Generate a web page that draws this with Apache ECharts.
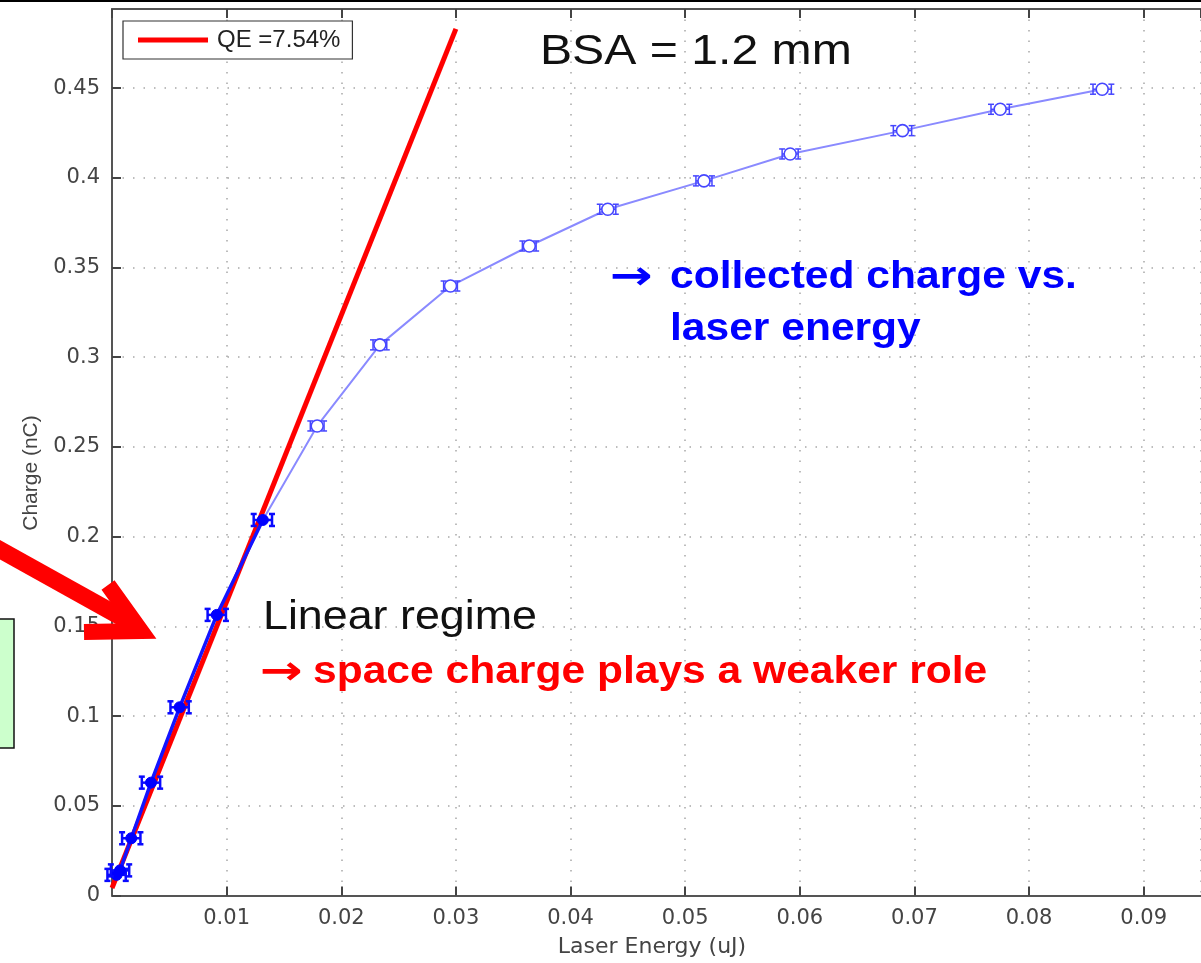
<!DOCTYPE html>
<html>
<head>
<meta charset="utf-8">
<title>Charge vs. laser energy</title>
<script src="https://cdn.jsdelivr.net/npm/echarts@6/dist/echarts.min.js"></script>
<style>
  html, body { margin: 0; padding: 0; background: #ffffff; }
  #chart { width: 1201px; height: 963px; }
</style>
</head>
<body>
<div id="chart"></div>
<script>
// Measured laser energy (uJ) and collected charge (nC)
const energy = [0.0004, 0.0007, 0.00168, 0.0034, 0.0059, 0.00914, 0.01316,
                0.0179, 0.02337, 0.02953, 0.0364, 0.04325, 0.05164, 0.05916,
                0.06896, 0.07748, 0.08638];
const charge = [0.0115, 0.0140, 0.0319, 0.0629, 0.1049, 0.1564, 0.2093,
                0.2617, 0.3069, 0.3397, 0.3620, 0.3825, 0.3983, 0.4133,
                0.4263, 0.4382, 0.4494];
// Horizontal uncertainty on the laser energy (uJ)
const energyErr = [0.0008, 0.0008, 0.0008, 0.0008, 0.0008, 0.0008, 0.0008,
                   0.0006, 0.0006, 0.0006, 0.0006, 0.0007, 0.0007, 0.0007,
                   0.0008, 0.0008, 0.0008];
// Number of points in the linear (low-charge) regime
const linearCount = 7;

// Linear fit, QE = 7.54 %
const qeName = 'QE =7.54%';
const qeLine = [[0, 0.0042], [0.0300, 0.4830]];

// Axis ranges and tick spacing
const xRange = [0, 0.095];
const xStep = 0.01;
const yRange = [0, 0.4941];
const yStep = 0.05;

const pts = energy.map((e, i) => [e, charge[i]]);
const linearPts = pts.slice(0, linearCount);
const saturPts = pts.slice(linearCount - 1);
const errData = energy.map((e, i) => [e, charge[i], energyErr[i], i < linearCount ? 1 : 0]);

const chart = echarts.init(document.getElementById('chart'), null, { renderer: 'canvas' });

const tickFont = { fontFamily: 'DejaVu Sans', fontSize: 21, color: '#444' };
const gridDots = { color: '#a8a8a8', width: 1.5, type: [1.5, 9] };

function renderErr(params, api) {
  const x = api.value(0), y = api.value(1), e = api.value(2), filled = api.value(3) === 1;
  const p = api.coord([x, y]);
  const l = api.coord([x - e, y]);
  const r = api.coord([x + e, y]);
  const col = filled ? '#0a0aff' : '#4646ff';
  const lw = filled ? 2.5 : 1.5;
  const h = filled ? 6 : 5;
  const s = 3;
  const st = { stroke: col, lineWidth: lw, fill: null };
  const kids = [
    { type: 'line', shape: { x1: l[0], y1: p[1], x2: r[0], y2: p[1] }, style: st },
    { type: 'line', shape: { x1: l[0], y1: p[1] - h, x2: l[0], y2: p[1] + h }, style: st },
    { type: 'line', shape: { x1: r[0], y1: p[1] - h, x2: r[0], y2: p[1] + h }, style: st },
    { type: 'line', shape: { x1: l[0] - s, y1: p[1] - h, x2: l[0] + s, y2: p[1] - h }, style: st },
    { type: 'line', shape: { x1: l[0] - s, y1: p[1] + h, x2: l[0] + s, y2: p[1] + h }, style: st },
    { type: 'line', shape: { x1: r[0] - s, y1: p[1] - h, x2: r[0] + s, y2: p[1] - h }, style: st },
    { type: 'line', shape: { x1: r[0] - s, y1: p[1] + h, x2: r[0] + s, y2: p[1] + h }, style: st },
    filled
      ? { type: 'circle', shape: { cx: p[0], cy: p[1], r: 5.5 }, style: { fill: '#0000ff', stroke: '#0000ff', lineWidth: 1 } }
      : { type: 'circle', shape: { cx: p[0], cy: p[1], r: 6 }, style: { fill: '#ffffff', stroke: '#4646ff', lineWidth: 1.6 } }
  ];
  return { type: 'group', children: kids };
}

function label(text, x, y, size, color, weight, sx, family) {
  return {
    type: 'text', x: x, y: y, scaleX: sx || 1, z: 100,
    style: {
      text: text, x: 0, y: 0,
      fontFamily: family || 'Liberation Sans', fontSize: size, fontWeight: weight || 'normal',
      fill: color, textAlign: 'left', textVerticalAlign: 'middle'
    }
  };
}

const option = {
  backgroundColor: '#ffffff',
  animation: false,
  grid: { left: 112, top: 9, width: 1103, height: 886.5, containLabel: false },
  legend: {
    left: 123, top: 21,
    data: [qeName],
    icon: 'rect', itemWidth: 70, itemHeight: 5, itemGap: 10,
    padding: [7, 12, 7, 15],
    backgroundColor: '#ffffff', borderColor: '#333', borderWidth: 1.2, borderRadius: 0,
    textStyle: { fontFamily: 'Liberation Sans', fontSize: 24, color: '#222', padding: [0, 0, 0, 4] }
  },
  xAxis: [{
    type: 'value', min: xRange[0], max: xRange[1], interval: xStep, position: 'bottom',
    axisLine: { show: true, onZero: false, lineStyle: { color: '#555', width: 2 } },
    axisTick: { show: true, inside: true, length: 9, lineStyle: { color: '#444', width: 2 } },
    axisLabel: { ...tickFont, margin: 13, showMinLabel: false, showMaxLabel: false,
                 formatter: v => +v.toFixed(2) + '' },
    splitLine: { show: true, lineStyle: gridDots }
  }, {
    type: 'value', min: xRange[0], max: xRange[1], interval: xStep, position: 'top',
    axisLine: { show: true, onZero: false, lineStyle: { color: '#555', width: 2 } },
    axisTick: { show: true, inside: true, length: 9, lineStyle: { color: '#444', width: 2 } },
    axisLabel: { show: false }, splitLine: { show: false }
  }],
  yAxis: {
    type: 'value', min: yRange[0], max: yRange[1], interval: yStep,
    axisLine: { show: true, onZero: false, lineStyle: { color: '#555', width: 2 } },
    axisTick: { show: true, inside: true, length: 9, lineStyle: { color: '#444', width: 2 } },
    axisLabel: { ...tickFont, margin: 12, showMaxLabel: false,
                 formatter: v => +v.toFixed(2) + '' },
    splitLine: { show: true, lineStyle: gridDots }
  },
  series: [
    {
      name: qeName, type: 'line', data: qeLine, showSymbol: false, symbol: 'none',
      lineStyle: { color: '#ff0000', width: 5 }, itemStyle: { color: '#ff0000' }, z: 3
    },
    {
      name: 'saturation', type: 'line', data: saturPts, showSymbol: false, symbol: 'none',
      lineStyle: { color: '#8a8aff', width: 2 }, z: 4
    },
    {
      name: 'linear', type: 'line', data: linearPts, showSymbol: false, symbol: 'none',
      lineStyle: { color: '#1414ff', width: 3.5 }, z: 5
    },
    {
      name: 'points', type: 'custom', data: errData, renderItem: renderErr, z: 6,
      encode: { x: 0, y: 1 }
    }
  ],
  graphic: [
    { type: 'rect', shape: { x: 0, y: 0, width: 1201, height: 2 }, style: { fill: '#000' }, z: 100 },
    // pale green note box at the left edge
    { type: 'rect', shape: { x: -3, y: 619, width: 17, height: 129 },
      style: { fill: '#ccffcc', stroke: '#111', lineWidth: 1.5 }, z: 100 },
    // red pointer arrow
    { type: 'polyline', shape: { points: [[-12, 543], [128, 621]] },
      style: { stroke: '#ff0000', lineWidth: 17, fill: null }, z: 100 },
    { type: 'polyline', shape: { points: [[108, 585], [141, 631], [84, 632]] },
      style: { stroke: '#ff0000', lineWidth: 16, fill: null, lineJoin: 'miter' }, z: 100 },
    label('BSA = 1.2 mm', 540, 52, 43, '#111', 'normal', 1.12),
    label('\u2192', 610, 279, 40, '#0000ff', 'bold', 1.28, 'DejaVu Sans'),
    label('collected charge vs.', 670, 278, 38, '#0000ff', 'bold', 1.12),
    label('laser energy', 670, 330, 38, '#0000ff', 'bold', 1.12),
    label('Linear regime', 263, 618, 40, '#111', 'normal', 1.12),
    label('\u2192', 260, 674, 40, '#ff0000', 'bold', 1.28, 'DejaVu Sans'),
    label('space charge plays a weaker role', 313, 673, 38, '#ff0000', 'bold', 1.12),
    // axis titles
    { type: 'text', x: 652, y: 947, z: 100,
      style: { text: 'Laser Energy (uJ)', x: 0, y: 0, fontFamily: 'DejaVu Sans', fontSize: 22,
               fill: '#444', textAlign: 'center', textVerticalAlign: 'middle' } },
    { type: 'text', x: 31, y: 473, rotation: Math.PI / 2, z: 100,
      style: { text: 'Charge (nC)', x: 0, y: 0, fontFamily: 'Liberation Sans', fontSize: 21,
               fill: '#444', textAlign: 'center', textVerticalAlign: 'middle' } }
  ]
};

chart.setOption(option);
</script>
</body>
</html>
